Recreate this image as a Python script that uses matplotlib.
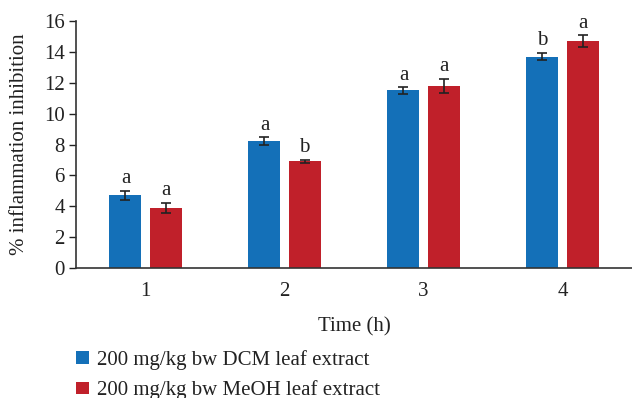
import matplotlib.pyplot as plt
import numpy as np
from matplotlib.patches import Patch

# data
hours = [1, 2, 3, 4]
dcm_mean = [4.7, 8.2, 11.5, 13.7]
dcm_err = [0.3, 0.26, 0.2, 0.24]
dcm_letters = ['a', 'a', 'a', 'b']
meoh_mean = [3.9, 6.9, 11.8, 14.7]
meoh_err = [0.34, 0.1, 0.46, 0.37]
meoh_letters = ['a', 'b', 'a', 'a']
series_names = ['200 mg/kg bw DCM leaf extract', '200 mg/kg bw MeOH leaf extract']

blue = '#1470b8'
red = '#c0202a'

plt.rcParams['font.family'] = ['Liberation Serif', 'DejaVu Serif']


def main():
    fig = plt.figure(figsize=(6.32, 3.98), dpi=100)
    ax = fig.add_axes([76 / 632, 1 - 268 / 398, 1 - 76 / 632, (268 - 21) / 398])

    x = np.array(hours, dtype=float)
    w = 0.23
    off = 0.144
    for xs, means, errs, letters, col in [
        (x - off, dcm_mean, dcm_err, dcm_letters, blue),
        (x + off, meoh_mean, meoh_err, meoh_letters, red),
    ]:
        ax.bar(xs, means, width=w, color=col, zorder=2)
        ax.errorbar(xs, means, yerr=errs, fmt='none', ecolor='#222222',
                    elinewidth=1.2, capsize=3.5, capthick=1.2, zorder=3)
        for xi, m, e, lab in zip(xs, means, errs, letters):
            ax.annotate(lab, (xi, m + e), xytext=(0, 2), textcoords='offset points',
                        ha='center', va='bottom', fontsize=15, color='#222222')

    ax.set_xlim(0.5, 4.5)
    ax.set_ylim(0, 16)
    ax.set_yticks(np.arange(0, 17, 2))
    ax.set_xticks(hours)
    ax.tick_params(axis='x', length=0, pad=10, labelsize=15, colors='#222222')
    ax.tick_params(axis='y', length=5, width=1, pad=3, labelsize=15, colors='#222222')
    for s in ['top', 'right']:
        ax.spines[s].set_visible(False)
    for s in ['left', 'bottom']:
        ax.spines[s].set_color('#333333')
        ax.spines[s].set_linewidth(1.2)

    ax.set_xlabel('Time (h)', fontsize=15, color='#222222', labelpad=12)
    ax.set_ylabel('% inflammation inhibition', fontsize=15, color='#222222')
    ax.yaxis.set_label_coords(-0.085, 0.5)

    handles = [Patch(facecolor=blue), Patch(facecolor=red)]
    fig.legend(handles, series_names, loc='upper left',
               bbox_to_anchor=(76 / 632, 1 - 350 / 398), frameon=False,
               fontsize=15, handlelength=0.6, handleheight=0.55,
               handletextpad=0.4, labelspacing=0.5, borderpad=0,
               borderaxespad=0, labelcolor='#222222')

    fig.savefig('out.png', dpi=100)


if __name__ == "__main__":
    main()
